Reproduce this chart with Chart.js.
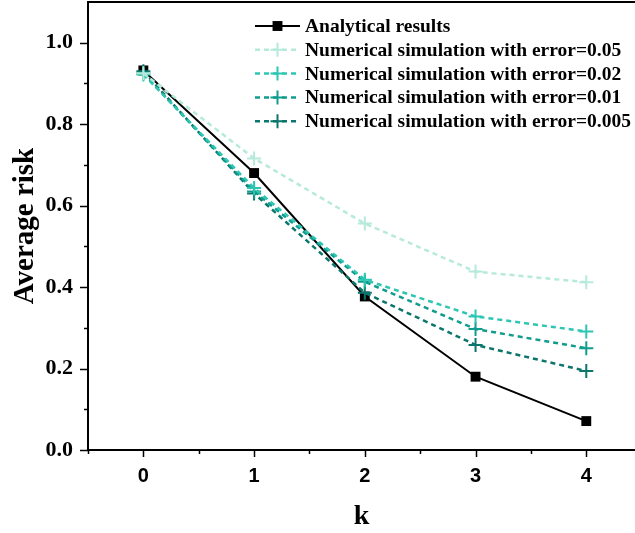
<!DOCTYPE html>
<html>
<head>
<meta charset="utf-8">
<script src="https://cdn.jsdelivr.net/npm/chart.js@4/dist/chart.umd.min.js"></script>
<style>
  html, body { margin: 0; padding: 0; background: #fff; }
  #wrap { width: 635px; height: 533px; }
</style>
</head>
<body>
<div id="wrap"><canvas id="riskChart" width="635" height="533"></canvas></div>
<script>
// data
const kValues = [0, 1, 2, 3, 4];
const analytical = [0.932, 0.680, 0.377, 0.180, 0.071];
const simErr005 = [0.925, 0.716, 0.556, 0.438, 0.412];
const simErr002 = [0.922, 0.643, 0.418, 0.328, 0.291];
const simErr001 = [0.925, 0.635, 0.413, 0.297, 0.250];
const simErr0005 = [0.930, 0.630, 0.386, 0.258, 0.194];
const seriesLabels = [
  "Analytical results",
  "Numerical simulation with error=0.05",
  "Numerical simulation with error=0.02",
  "Numerical simulation with error=0.01",
  "Numerical simulation with error=0.005"
];
const xTickValues = [-0.5, 0, 0.5, 1, 1.5, 2, 2.5, 3, 3.5, 4];
const yTickValues = [0, 0.1, 0.2, 0.3, 0.4, 0.5, 0.6, 0.7, 0.8, 0.9, 1.0];

const serif = "'Liberation Serif', 'Times New Roman', serif";
const sans = "'Liberation Sans', Arial, sans-serif";

const toPoints = (arr) => arr.map((v, i) => ({ x: kValues[i], y: v }));

function simSet(label, data, color) {
  return {
    label: label,
    data: toPoints(data),
    borderColor: color,
    backgroundColor: color,
    borderWidth: 2.5,
    borderDash: [5, 4],
    pointStyle: "cross",
    pointRadius: 7,
    pointBorderWidth: 2,
    pointBorderColor: color,
    tension: 0,
    order: 0,
  };
}

// axis frame + minor/major tick marks
const framePlugin = {
  id: "frame",
  afterDraw(chart) {
    const ctx = chart.ctx;
    const area = chart.chartArea;
    const xs = chart.scales.x;
    const ys = chart.scales.y;
    ctx.save();
    ctx.strokeStyle = "#000";
    ctx.lineWidth = 2;
    ctx.beginPath();
    ctx.moveTo(area.left - 1, area.top);
    ctx.lineTo(area.right, area.top);
    ctx.stroke();
    ctx.lineWidth = 1.5;
    xTickValues.forEach((v) => {
      const px = Math.round(xs.getPixelForValue(v)) + 0.5;
      const len = Number.isInteger(v) ? 7 : 4;
      ctx.beginPath();
      ctx.moveTo(px, area.bottom);
      ctx.lineTo(px, area.bottom + len);
      ctx.stroke();
    });
    yTickValues.forEach((v, i) => {
      const py = Math.round(ys.getPixelForValue(v)) + 0.5;
      const len = i % 2 === 0 ? 8 : 4;
      ctx.beginPath();
      ctx.moveTo(area.left, py);
      ctx.lineTo(area.left - len, py);
      ctx.stroke();
    });
    ctx.restore();
  },
};

// legend drawn inside the plot, top right
const insideLegend = {
  id: "insideLegend",
  afterDraw(chart) {
    const ctx = chart.ctx;
    ctx.save();
    chart.data.datasets.forEach((ds, i) => {
      const y = 26 + i * 23.8;
      ctx.strokeStyle = ds.borderColor;
      ctx.lineWidth = ds.borderWidth;
      ctx.setLineDash(ds.borderDash || []);
      ctx.beginPath();
      ctx.moveTo(255, y);
      ctx.lineTo(300, y);
      ctx.stroke();
      ctx.setLineDash([]);
      ctx.fillStyle = ds.pointBackgroundColor || ds.backgroundColor;
      ctx.strokeStyle = ds.pointBorderColor || ds.borderColor;
      ctx.lineWidth = ds.pointBorderWidth || 1;
      Chart.helpers.drawPoint(ctx, {
        pointStyle: ds.pointStyle,
        radius: ds.pointRadius,
        borderWidth: ds.pointBorderWidth,
        rotation: 0,
      }, 277.5, y);
      ctx.fillStyle = "#000";
      ctx.font = "bold 19.5px " + serif;
      ctx.textBaseline = "middle";
      ctx.textAlign = "left";
      ctx.fillText(ds.label, 305, y + 1);
    });
    ctx.restore();
  },
};

const ctx = document.getElementById("riskChart").getContext("2d");
new Chart(ctx, {
  type: "line",
  data: {
    datasets: [
      {
        label: seriesLabels[0],
        data: toPoints(analytical),
        borderColor: "#000",
        backgroundColor: "#000",
        borderWidth: 2,
        pointStyle: "rect",
        pointRadius: 7,
        pointBorderWidth: 0,
        pointBackgroundColor: "#000",
        pointBorderColor: "#000",
        tension: 0,
        order: 1,
      },
      simSet(seriesLabels[1], simErr005, "#b6eadb"),
      simSet(seriesLabels[2], simErr002, "#2dc6b3"),
      simSet(seriesLabels[3], simErr001, "#109d8e"),
      simSet(seriesLabels[4], simErr0005, "#0b766b"),
    ],
  },
  options: {
    responsive: false,
    animation: false,
    clip: false,
    layout: { autoPadding: false, padding: { top: 2, right: 0, left: 0, bottom: 0 } },
    plugins: {
      legend: { display: false },
      tooltip: { enabled: false },
    },
    scales: {
      x: {
        type: "linear",
        min: -0.5,
        max: 4.44,
        afterBuildTicks: (scale) => {
          scale.ticks = kValues.map((v) => ({ value: v }));
        },
        afterFit: (scale) => {
          scale.height = 83;
          scale.paddingLeft = 0;
          scale.paddingRight = 0;
        },
        grid: { display: false, drawTicks: false },
        border: { display: true, color: "#000", width: 2 },
        ticks: {
          padding: 14,
          color: "#000",
          font: { family: sans, size: 20, weight: "bold" },
          callback: (v) => String(v),
        },
        title: {
          display: true,
          text: "k",
          color: "#000",
          font: { family: serif, size: 28, weight: "bold", lineHeight: 1 },
          padding: { top: 0, bottom: 2 },
        },
      },
      y: {
        type: "linear",
        min: 0,
        max: 1.1,
        afterBuildTicks: (scale) => {
          scale.ticks = [0, 0.2, 0.4, 0.6, 0.8, 1.0].map((v) => ({ value: v }));
        },
        afterFit: (scale) => {
          scale.width = 88;
          scale.paddingTop = 0;
          scale.paddingBottom = 0;
        },
        grid: { display: false, drawTicks: false },
        border: { display: true, color: "#000", width: 2 },
        ticks: {
          padding: 15,
          color: "#000",
          font: { family: serif, size: 22, weight: "bold" },
          callback: (v) => Number(v).toFixed(1),
        },
        title: {
          display: true,
          text: "Average risk",
          color: "#000",
          font: { family: serif, size: 29, weight: "bold" },
          padding: { top: 8, bottom: 0 },
        },
      },
    },
  },
  plugins: [framePlugin, insideLegend],
});
</script>
</body>
</html>
